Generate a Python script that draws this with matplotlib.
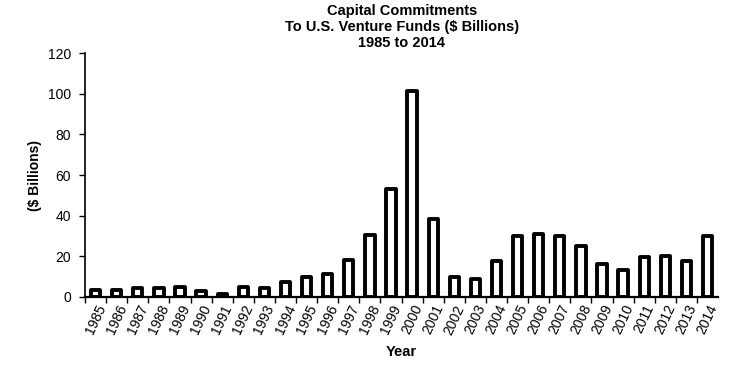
import matplotlib.pyplot as plt

years = [str(y) for y in range(1985, 2015)]
commitments = [3.5, 3.5, 4.5, 4.5, 5, 3, 1.5, 5, 4.5, 7.5,
               9.7, 11.5, 18.3, 30.5, 53, 101.5, 38.6, 10, 9, 17.5,
               30, 31, 30, 25, 16, 13.5, 19.5, 20, 17.5, 30]

plt.rcParams['font.family'] = ['Liberation Sans', 'DejaVu Sans']

fig = plt.figure(figsize=(7.51, 3.74), dpi=100)
ax = fig.add_axes([0.1132, 0.2059, 0.843, 0.652])

x = list(range(len(years)))
bars = ax.bar(x, commitments, width=0.44, color='white', edgecolor='black', linewidth=2.8)
for b in bars:
    b.set_joinstyle('round')

ax.set_xlim(-0.5, len(years) - 0.5)
ax.set_ylim(0, 120)
ax.set_yticks(range(0, 121, 20))
ax.tick_params(axis='y', direction='out', length=4, width=1, labelsize=10, pad=6)

# category labels at bar centers, tick marks between bars
ax.set_xticks(x)
ax.set_xticklabels(years, rotation=65, fontsize=10, ha='right', va='top',
                   rotation_mode='anchor')
ax.tick_params(axis='x', length=0, pad=4)
ax.set_xticks([i + 0.5 for i in x[:-1]] + [-0.5], minor=True)
ax.tick_params(axis='x', which='minor', direction='out', length=4, width=1)

for s in ['top', 'right']:
    ax.spines[s].set_visible(False)
ax.spines['left'].set_linewidth(1.2)
ax.spines['bottom'].set_linewidth(1.6)

ax.set_ylabel('($ Billions)', fontsize=10, fontweight='bold', labelpad=4)
ax.set_xlabel('Year', fontsize=10.5, fontweight='bold', labelpad=6)

fig.text(0.535, 0.97, 'Capital Commitments', ha='center', va='center',
         fontsize=10.5, fontweight='bold')
fig.text(0.535, 0.927, 'To U.S. Venture Funds ($ Billions)', ha='center', va='center',
         fontsize=10.5, fontweight='bold')
fig.text(0.535, 0.884, '1985 to 2014', ha='center', va='center',
         fontsize=10.5, fontweight='bold')

fig.savefig('out.png', dpi=100)
